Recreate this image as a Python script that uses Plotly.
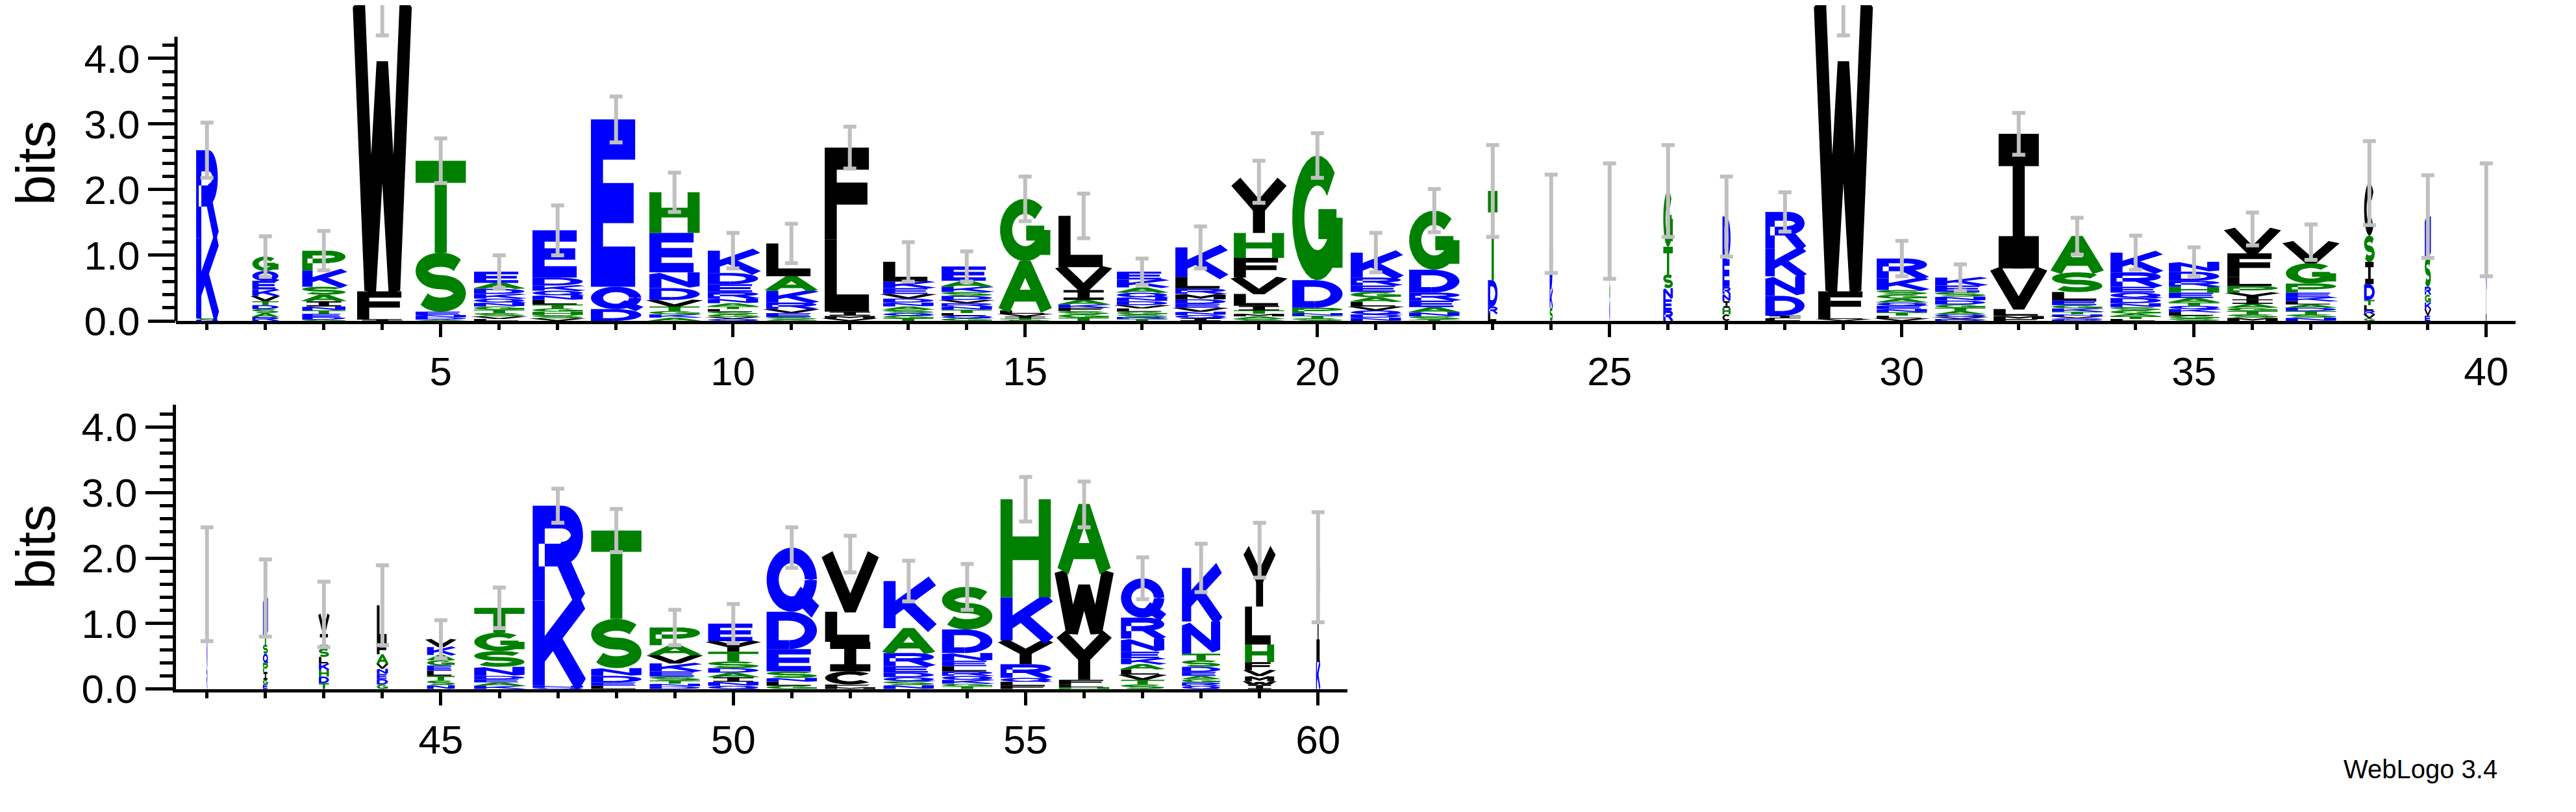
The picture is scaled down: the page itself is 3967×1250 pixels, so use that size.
import numpy as np
import plotly.graph_objects as go

# ---- data (bits per letter, one entry per column) ----
positions = list(range(1, 61))

stack_letters = [
    "KRNS", "GQEKVRASDT", "PKSAINETDG", "WFLI", "TSENDA",
    "EADKNQSTGVL", "EDKLNQTSHGV", "EQD", "HENDVTAKG", "KDERNAGSLTQV",
    "LAKREVSG", "FLIVM", "LKEVNDSATGQ", "EAKDSTNRVGQL", "GALVIST",
    "LVIATGSFK", "KEAQDNLVSGTR", "KLMRDVEQNI", "YHFVLITAMS", "GDPSTN",
    "KREGLAQVND", "GDREANST", "TDLR", "DSK", "IGN",
    "GTSENR", "DECHINR", "RKDNLI", "WFLV", "RKSAGTNEQVL",
    "KESDNATGQRV", "IVLMF", "ASLEKGTVNDQ", "KREDQNGSTAL", "NDHREALKSGQT",
    "VFLYPIAMSTG", "GVPEKNSTDAL", "CISDLTVRG", "NSGRVKE", "GNL",
    "KNR", "NIPQSTEG", "VISDHKLT", "LFADENVG", "KVLEGASTN",
    "TGSNKAED", "RKNQ", "TSNDLE", "PAVKESTDN", "ETYISADNQ",
    "QDESLGN", "VILCFM", "KAREDNSQ", "SDNLERKQTG", "HKYRLFQ",
    "AWYFLH", "QRNEKVLAST", "KNSTDEQRGA", "YLHFVMIW", "IK",
]

stack_bits = [
    [1.22, 1.34, 0.02, 0.02],
    [0.22, 0.15, 0.13, 0.10, 0.08, 0.06, 0.06, 0.06, 0.06, 0.06],
    [0.30, 0.25, 0.12, 0.10, 0.08, 0.06, 0.05, 0.05, 0.04, 0.02],
    [4.45, 0.40, 0.03, 0.02],
    [1.40, 0.90, 0.05, 0.04, 0.03, 0.02],
    [0.17, 0.09, 0.08, 0.07, 0.06, 0.06, 0.05, 0.05, 0.05, 0.04, 0.03],
    [0.72, 0.12, 0.08, 0.07, 0.07, 0.07, 0.06, 0.05, 0.05, 0.05, 0.04],
    [2.55, 0.34, 0.18],
    [0.62, 0.60, 0.24, 0.18, 0.10, 0.07, 0.05, 0.05, 0.05],
    [0.34, 0.17, 0.12, 0.10, 0.07, 0.05, 0.04, 0.04, 0.04, 0.04, 0.03, 0.03],
    [0.50, 0.22, 0.18, 0.10, 0.06, 0.06, 0.04, 0.02],
    [1.40, 1.10, 0.06, 0.04, 0.04],
    [0.30, 0.10, 0.09, 0.07, 0.06, 0.06, 0.05, 0.05, 0.04, 0.04, 0.04],
    [0.22, 0.09, 0.08, 0.06, 0.06, 0.05, 0.05, 0.05, 0.05, 0.04, 0.04, 0.04],
    [0.95, 0.75, 0.05, 0.04, 0.03, 0.02, 0.02],
    [0.78, 0.35, 0.15, 0.07, 0.05, 0.05, 0.05, 0.05, 0.05],
    [0.12, 0.12, 0.08, 0.07, 0.06, 0.06, 0.05, 0.05, 0.04, 0.04, 0.03, 0.03],
    [0.45, 0.18, 0.08, 0.08, 0.07, 0.06, 0.06, 0.05, 0.05, 0.04],
    [0.78, 0.38, 0.30, 0.25, 0.18, 0.07, 0.05, 0.04, 0.04, 0.03],
    [1.90, 0.42, 0.08, 0.04, 0.04, 0.04],
    [0.38, 0.12, 0.10, 0.08, 0.07, 0.07, 0.06, 0.06, 0.05, 0.05],
    [0.90, 0.35, 0.12, 0.10, 0.08, 0.06, 0.05, 0.02],
    [1.36, 0.40, 0.11, 0.11],
    [1.00, 0.20, 0.28],
    [0.80, 0.40, 0.32],
    [0.85, 0.42, 0.21, 0.17, 0.17, 0.16],
    [0.65, 0.42, 0.10, 0.10, 0.10, 0.11, 0.11],
    [0.56, 0.42, 0.30, 0.30, 0.04, 0.04],
    [4.45, 0.38, 0.04, 0.03],
    [0.30, 0.18, 0.07, 0.06, 0.06, 0.05, 0.05, 0.05, 0.05, 0.04, 0.04],
    [0.12, 0.10, 0.07, 0.06, 0.06, 0.05, 0.05, 0.05, 0.04, 0.03, 0.03],
    [2.05, 0.62, 0.10, 0.05, 0.03],
    [0.55, 0.30, 0.13, 0.07, 0.05, 0.05, 0.04, 0.03, 0.03, 0.02, 0.02],
    [0.30, 0.22, 0.09, 0.08, 0.08, 0.06, 0.05, 0.05, 0.04, 0.04, 0.03],
    [0.15, 0.14, 0.09, 0.09, 0.08, 0.07, 0.05, 0.05, 0.04, 0.04, 0.05, 0.05],
    [0.37, 0.36, 0.14, 0.10, 0.10, 0.07, 0.06, 0.05, 0.05, 0.05, 0.05],
    [0.31, 0.32, 0.14, 0.07, 0.06, 0.05, 0.05, 0.05, 0.05, 0.05, 0.05],
    [0.80, 0.34, 0.40, 0.24, 0.08, 0.08, 0.06, 0.06, 0.04],
    [0.62, 0.45, 0.12, 0.12, 0.10, 0.10, 0.08],
    [0.60, 0.50, 0.44],
    [0.80, 0.50, 0.30],
    [0.57, 0.12, 0.14, 0.14, 0.14, 0.14, 0.07, 0.07],
    [0.30, 0.22, 0.13, 0.10, 0.10, 0.10, 0.10, 0.09],
    [0.58, 0.17, 0.14, 0.08, 0.08, 0.08, 0.08, 0.07],
    [0.12, 0.12, 0.08, 0.08, 0.08, 0.08, 0.07, 0.07, 0.06],
    [0.38, 0.28, 0.24, 0.14, 0.05, 0.05, 0.05, 0.05],
    [1.45, 1.30, 0.03, 0.02],
    [1.35, 0.75, 0.12, 0.10, 0.05, 0.05],
    [0.27, 0.15, 0.13, 0.12, 0.08, 0.06, 0.05, 0.04, 0.04],
    [0.27, 0.15, 0.16, 0.07, 0.10, 0.07, 0.07, 0.06, 0.05],
    [0.98, 0.57, 0.34, 0.10, 0.06, 0.05, 0.06],
    [0.88, 0.45, 0.46, 0.20, 0.04, 0.03],
    [0.72, 0.38, 0.20, 0.10, 0.07, 0.06, 0.06, 0.06],
    [0.65, 0.36, 0.12, 0.08, 0.08, 0.07, 0.06, 0.06, 0.04, 0.04],
    [1.50, 0.66, 0.36, 0.21, 0.06, 0.05, 0.06],
    [1.02, 0.96, 0.70, 0.07, 0.04, 0.03],
    [0.60, 0.32, 0.20, 0.10, 0.09, 0.08, 0.08, 0.08, 0.07, 0.07],
    [0.82, 0.49, 0.10, 0.10, 0.08, 0.06, 0.05, 0.05, 0.05, 0.05],
    [0.86, 0.58, 0.27, 0.12, 0.09, 0.08, 0.06, 0.06],
    [1.45, 0.41],
]

err_bits = [0.42, 0.31, 0.30, 0.55, 0.34, 0.25, 0.38, 0.35, 0.30, 0.27,
            0.30, 0.32, 0.30, 0.23, 0.34, 0.34, 0.20, 0.32, 0.32, 0.34,
            0.30, 0.33, 0.70, 0.75, 0.88, 0.70, 0.61, 0.30, 0.55, 0.27,
            0.20, 0.32, 0.28, 0.26, 0.22, 0.25, 0.27, 0.64, 0.63, 0.86,
            0.87, 0.59, 0.50, 0.61, 0.29, 0.31, 0.26, 0.33, 0.27, 0.30,
            0.31, 0.28, 0.31, 0.35, 0.34, 0.35, 0.32, 0.37, 0.42, 0.84]

# column width relative to a full column (narrow = few sequences)
col_width = [0.43, 0.52, 0.86, 1, 1, 1, 1, 1, 1, 1,
             1, 1, 1, 1, 1, 1, 1, 1, 1, 1,
             1, 1, 0.19, 0.06, 0.014, 0.19, 0.16, 0.78, 1, 1,
             1, 1, 1, 1, 1, 1, 1, 0.21, 0.12, 0.014,
             0.014, 0.1, 0.2, 0.22, 0.55, 1, 1, 1, 1, 1,
             1, 1, 1, 1, 1, 1, 0.86, 0.76, 0.58, 0.08]

BLUE, GREEN, BLACK = "#0000ff", "#008000", "#000000"
letter_color = {}
for c in "DEKNQR":
    letter_color[c] = BLUE
for c in "GSTAHP":
    letter_color[c] = GREEN
for c in "FILMVWYC":
    letter_color[c] = BLACK

# ---- simple stroke font in a unit box ----
TH = 0.24
h = TH / 2
LO, HI = h, 1 - h


def arc(cx, cy, rx, ry, a0, a1, n=28):
    a = np.radians(np.linspace(a0, a1, n))
    return list(zip(cx + rx * np.cos(a), cy + ry * np.sin(a)))


rb = 0.5 - h
bowl = arc(0.58, 0.69, HI - 0.58, HI - 0.69, 90, -90)
GLYPHS = {
    "A": [[(0.08, 0.0), (0.5, 0.96), (0.92, 0.0)], [(0.25, 0.3), (0.75, 0.3)]],
    "C": [arc(0.5, 0.5, rb, rb, 40, 320)],
    "D": [[(0.45, LO), (LO, LO), (LO, HI), (0.45, HI)] + arc(0.45, 0.5, HI - 0.45, 0.5 - h, 90, -90)[1:]],
    "E": [[(HI, HI), (LO, HI), (LO, LO), (HI, LO)], [(LO, 0.5), (0.85, 0.5)]],
    "F": [[(HI, HI), (LO, HI), (LO, 0.0)], [(LO, 0.5), (0.85, 0.5)]],
    "G": [arc(0.5, 0.5, rb, rb, 45, 360), [(0.52, 0.45), (HI, 0.45)], [(HI, 0.5), (HI, 0.1)]],
    "H": [[(LO, 0), (LO, 1)], [(HI, 0), (HI, 1)], [(LO, 0.5), (HI, 0.5)]],
    "I": [[(0.5, 0), (0.5, 1)], [(0.1, HI), (0.9, HI)], [(0.1, LO), (0.9, LO)]],
    "K": [[(LO, 0), (LO, 1)], [(0.97, 1.0), (LO, 0.34)], [(0.42, 0.56), (0.97, 0.0)]],
    "L": [[(LO, 1), (LO, LO), (HI, LO)]],
    "M": [[(LO, 0), (LO, HI), (0.5, 0.3), (HI, HI), (HI, 0)]],
    "N": [[(LO, 0), (LO, HI), (HI, LO), (HI, 1)]],
    "P": [[(LO, 0), (LO, HI), (0.58, HI)] + bowl[1:-1] + [(0.58, 0.48), (LO, 0.48)]],
    "Q": [arc(0.5, 0.5, rb, rb, 0, 360, 40), [(0.6, 0.3), (0.97, 0.0)]],
    "R": [[(LO, 0), (LO, HI), (0.58, HI)] + bowl[1:-1] + [(0.58, 0.48), (LO, 0.48)],
          [(0.55, 0.48), (0.95, 0.0)]],
    "S": [arc(0.5, 0.5 + (HI - 0.5) / 2, rb, (HI - LO) / 4, 30, 270)
          + arc(0.5, LO + (HI - LO) / 4, rb, (HI - LO) / 4, 90, -150)[1:]],
    "T": [[(0.5, 0), (0.5, HI)], [(0.0, HI), (1.0, HI)]],
    "V": [[(0.04, 1), (0.5, 0.04), (0.96, 1)]],
    "W": [[(0.03, 1), (0.26, 0.03), (0.5, 0.75), (0.74, 0.03), (0.97, 1)]],
    "Y": [[(0.04, 1), (0.5, 0.48), (0.96, 1)], [(0.5, 0.5), (0.5, 0)]],
}


def stroke_outline(line):
    """Outline polygon of a thick polyline (miter joins, bevel on sharp outer turns)."""
    pts = np.array(line, dtype=float)
    d = np.diff(pts, axis=0)
    d = d / np.hypot(d[:, 0], d[:, 1])[:, None]
    nr = np.stack([-d[:, 1], d[:, 0]], axis=1)
    left, right = [pts[0] + h * nr[0]], [pts[0] - h * nr[0]]
    for k in range(1, len(pts) - 1):
        na, nb = nr[k - 1], nr[k]
        c = 1 + np.dot(na, nb)
        turn = d[k - 1][0] * d[k][1] - d[k - 1][1] * d[k][0]
        for side, out in ((1, left), (-1, right)):
            outer = (turn < 0) if side == 1 else (turn > 0)
            if c > 1e-6 and (not outer or 2 / c < 4):
                out.append(pts[k] + side * h * (na + nb) / c)
            else:
                out.append(pts[k] + side * h * na)
                out.append(pts[k] + side * h * nb)
    left.append(pts[-1] + h * nr[-1])
    right.append(pts[-1] - h * nr[-1])
    return left + right[::-1]


GLYPH_POLYS = {c: [stroke_outline(s) for s in strokes] for c, strokes in GLYPHS.items()}


def poly_path(poly, x0, x1, y0, y1):
    pts = [(x0 + u * (x1 - x0), y0 + v * (y1 - y0)) for u, v in poly]
    return "M" + "L".join(f"{x:.4f},{y:.4f}" for x, y in pts) + "Z"


FULL_W = 0.86
fig = go.Figure()
shapes = []
totals = []
for pos, letters, bits, wf in zip(positions, stack_letters, stack_bits, col_width):
    xr, yr = ("x", "y") if pos <= 40 else ("x2", "y2")
    w = FULL_W * wf
    y = 0.0
    for ch, b in sorted(zip(letters, bits), key=lambda t: t[1]):
        for poly in GLYPH_POLYS[ch]:
            shapes.append(dict(type="path", xref=xr, yref=yr, layer="below",
                               path=poly_path(poly, pos - w / 2, pos + w / 2, y, y + b),
                               fillcolor=letter_color[ch], line=dict(width=0)))
        y += b
    totals.append(y)

for sel, xa, ya in [(slice(0, 40), "x", "y"), (slice(40, 60), "x2", "y2")]:
    fig.add_trace(go.Scatter(
        x=positions[sel], y=totals[sel], xaxis=xa, yaxis=ya, mode="markers",
        marker=dict(size=1, opacity=0), hoverinfo="skip", showlegend=False,
        error_y=dict(type="data", array=err_bits[sel], color="#c0c0c0",
                     thickness=6, width=10)))

# y axis line of the top panel stops at ~4.33 bits
shapes.append(dict(type="line", xref="paper", yref="y", x0=0.0663, x1=0.0663,
                   y0=0, y1=4.33, line=dict(color="black", width=5)))

FONT = "Liberation Sans, Arial, sans-serif"
tick_font = dict(family=FONT, size=62, color="black")
yt = dict(tickvals=[0, 1, 2, 3, 4], ticktext=["0.0", "1.0", "2.0", "3.0", "4.0"],
          ticks="outside", ticklen=42, tickwidth=5, tickcolor="black",
          tickfont=tick_font, showgrid=False, zeroline=False,
          title=dict(text="bits", font=dict(family=FONT, size=84, color="black"), standoff=20),
          minor=dict(tickvals=[round(0.2 * i, 1) for i in range(22)], ticks="outside",
                     ticklen=20, tickwidth=5, tickcolor="black"))
xt = dict(ticks="outside", ticklen=20, tickwidth=5, tickcolor="black", tickfont=tick_font,
          showgrid=False, zeroline=False, showline=True, linewidth=5, linecolor="black",
          minor=dict(tick0=0, dtick=1, ticks="outside", ticklen=9, tickwidth=5,
                     tickcolor="black"))

fig.update_layout(
    width=3967, height=1250, margin=dict(l=0, r=0, t=0, b=0),
    plot_bgcolor="white", paper_bgcolor="white", showlegend=False,
    shapes=shapes,
    xaxis=dict(xt, domain=[0.0663, 0.9745], range=[0.47, 40.5], anchor="y",
               tickvals=[5, 10, 15, 20, 25, 30, 35, 40]),
    yaxis=dict(yt, domain=[0.6, 1.0], range=[0, 4.81], anchor="x", showline=False),
    xaxis2=dict(xt, domain=[0.0663, 0.521], range=[40.47, 60.5], anchor="y2",
                tickvals=[45, 50, 55, 60]),
    yaxis2=dict(yt, domain=[0.1336, 0.4936], range=[0, 4.34], anchor="x2",
                showline=True, linewidth=5, linecolor="black"),
    annotations=[dict(text="WebLogo 3.4", xref="paper", yref="paper", x=0.968, y=0.012,
                      xanchor="right", yanchor="bottom", showarrow=False,
                      font=dict(family=FONT, size=40, color="black"))],
)

fig.write_html("out.html")
